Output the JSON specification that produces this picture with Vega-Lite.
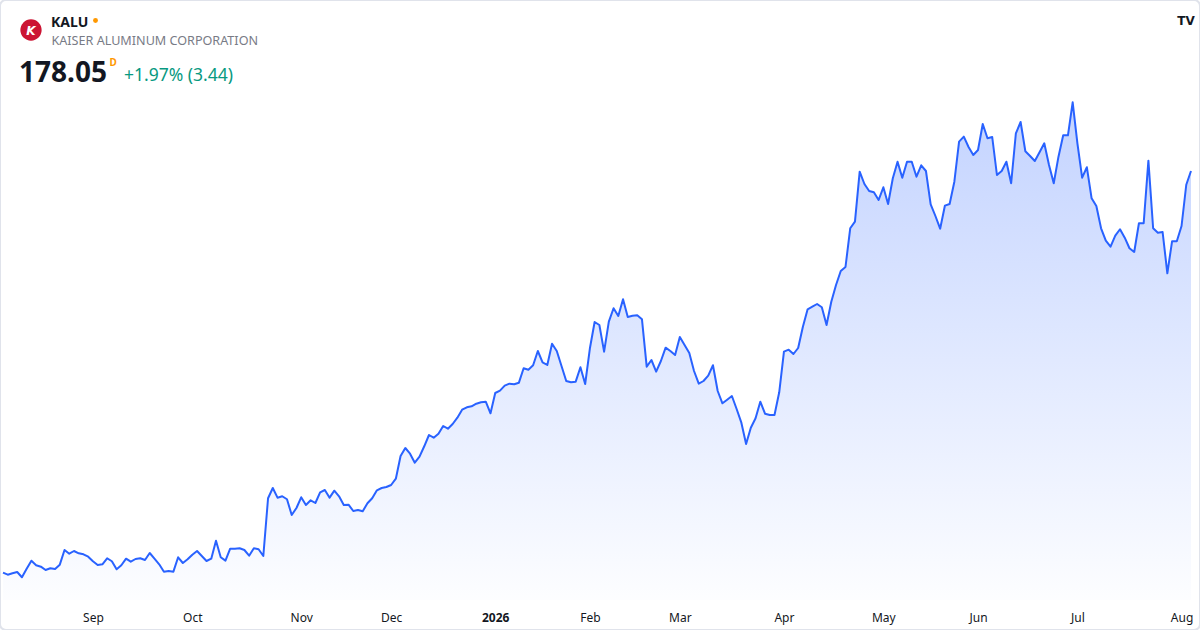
{
  "$schema": "https://vega.github.io/schema/vega-lite/v6.json",
  "width": 1200,
  "height": 630,
  "autosize": {"type": "none"},
  "padding": 0,
  "background": "#ffffff",
  "config": {
    "view": {"stroke": "#e0e3eb", "strokeWidth": 2, "cornerRadius": 6},
    "font": "Noto Sans"
  },
  "datasets": {
    "prices": [
      {"d":"2025-08-05","p":77.63},{"d":"2025-08-06","p":77.13},{"d":"2025-08-07","p":77.48},{"d":"2025-08-08","p":77.80},
      {"d":"2025-08-11","p":76.48},{"d":"2025-08-12","p":78.63},{"d":"2025-08-13","p":80.63},{"d":"2025-08-14","p":79.48},{"d":"2025-08-15","p":79.13},
      {"d":"2025-08-18","p":78.30},{"d":"2025-08-19","p":78.73},{"d":"2025-08-20","p":78.55},{"d":"2025-08-21","p":79.63},{"d":"2025-08-22","p":83.30},
      {"d":"2025-08-25","p":82.38},{"d":"2025-08-26","p":83.05},{"d":"2025-08-27","p":82.48},{"d":"2025-08-28","p":82.23},{"d":"2025-08-29","p":81.63},
      {"d":"2025-09-02","p":80.48},{"d":"2025-09-03","p":79.55},{"d":"2025-09-04","p":79.73},{"d":"2025-09-05","p":81.23},
      {"d":"2025-09-08","p":80.48},{"d":"2025-09-09","p":78.48},{"d":"2025-09-10","p":79.48},{"d":"2025-09-11","p":81.13},{"d":"2025-09-12","p":80.38},
      {"d":"2025-09-15","p":81.05},{"d":"2025-09-16","p":81.23},{"d":"2025-09-17","p":80.80},{"d":"2025-09-18","p":82.55},{"d":"2025-09-19","p":81.13},
      {"d":"2025-09-22","p":79.73},{"d":"2025-09-23","p":77.88},{"d":"2025-09-24","p":78.05},{"d":"2025-09-25","p":77.88},{"d":"2025-09-26","p":81.48},
      {"d":"2025-09-29","p":80.05},{"d":"2025-09-30","p":80.98},
      {"d":"2025-10-01","p":82.13},{"d":"2025-10-02","p":83.05},{"d":"2025-10-03","p":81.80},
      {"d":"2025-10-06","p":80.55},{"d":"2025-10-07","p":81.13},{"d":"2025-10-08","p":85.63},{"d":"2025-10-09","p":81.48},{"d":"2025-10-10","p":80.63},
      {"d":"2025-10-13","p":83.63},{"d":"2025-10-14","p":83.63},{"d":"2025-10-15","p":83.73},{"d":"2025-10-16","p":83.30},{"d":"2025-10-17","p":81.88},
      {"d":"2025-10-20","p":83.73},{"d":"2025-10-21","p":83.48},{"d":"2025-10-22","p":81.80},{"d":"2025-10-23","p":96.23},{"d":"2025-10-24","p":98.80},
      {"d":"2025-10-27","p":96.38},{"d":"2025-10-28","p":96.73},{"d":"2025-10-29","p":95.98},{"d":"2025-10-30","p":92.05},{"d":"2025-10-31","p":93.80},
      {"d":"2025-11-03","p":96.48},{"d":"2025-11-04","p":94.55},{"d":"2025-11-05","p":95.73},{"d":"2025-11-06","p":95.05},{"d":"2025-11-07","p":97.73},
      {"d":"2025-11-10","p":98.30},{"d":"2025-11-11","p":96.38},{"d":"2025-11-12","p":98.13},{"d":"2025-11-13","p":96.73},{"d":"2025-11-14","p":94.55},
      {"d":"2025-11-17","p":94.63},{"d":"2025-11-18","p":93.05},{"d":"2025-11-19","p":93.30},{"d":"2025-11-20","p":92.98},{"d":"2025-11-21","p":94.98},
      {"d":"2025-11-24","p":96.23},{"d":"2025-11-25","p":98.23},{"d":"2025-11-26","p":98.80},{"d":"2025-11-28","p":99.05},
      {"d":"2025-12-01","p":99.55},{"d":"2025-12-02","p":101.13},{"d":"2025-12-03","p":106.80},{"d":"2025-12-04","p":108.80},{"d":"2025-12-05","p":107.38},
      {"d":"2025-12-08","p":105.13},{"d":"2025-12-09","p":106.63},{"d":"2025-12-10","p":109.23},{"d":"2025-12-11","p":112.05},{"d":"2025-12-12","p":111.38},
      {"d":"2025-12-15","p":112.38},{"d":"2025-12-16","p":114.30},{"d":"2025-12-17","p":113.63},{"d":"2025-12-18","p":114.80},{"d":"2025-12-19","p":116.38},
      {"d":"2025-12-22","p":118.38},{"d":"2025-12-23","p":118.98},{"d":"2025-12-24","p":119.23},{"d":"2025-12-26","p":119.88},
      {"d":"2025-12-29","p":120.23},{"d":"2025-12-30","p":120.38},{"d":"2025-12-31","p":117.48},
      {"d":"2026-01-02","p":122.55},
      {"d":"2026-01-05","p":123.13},{"d":"2026-01-06","p":124.38},{"d":"2026-01-07","p":124.88},{"d":"2026-01-08","p":124.73},{"d":"2026-01-09","p":125.13},
      {"d":"2026-01-12","p":128.73},{"d":"2026-01-13","p":128.38},{"d":"2026-01-14","p":129.48},{"d":"2026-01-15","p":133.05},{"d":"2026-01-16","p":130.23},
      {"d":"2026-01-20","p":129.55},{"d":"2026-01-21","p":134.88},{"d":"2026-01-22","p":133.05},{"d":"2026-01-23","p":129.30},
      {"d":"2026-01-26","p":125.55},{"d":"2026-01-27","p":125.23},{"d":"2026-01-28","p":125.38},{"d":"2026-01-29","p":128.98},{"d":"2026-01-30","p":124.80},
      {"d":"2026-02-02","p":133.73},{"d":"2026-02-03","p":140.30},{"d":"2026-02-04","p":139.55},{"d":"2026-02-05","p":132.88},{"d":"2026-02-06","p":140.38},
      {"d":"2026-02-09","p":143.73},{"d":"2026-02-10","p":141.80},{"d":"2026-02-11","p":145.98},{"d":"2026-02-12","p":141.55},{"d":"2026-02-13","p":141.88},
      {"d":"2026-02-17","p":141.98},{"d":"2026-02-18","p":140.98},{"d":"2026-02-19","p":129.13},{"d":"2026-02-20","p":130.80},
      {"d":"2026-02-23","p":127.88},{"d":"2026-02-24","p":130.55},{"d":"2026-02-25","p":133.88},{"d":"2026-02-26","p":133.05},{"d":"2026-02-27","p":132.05},
      {"d":"2026-03-02","p":136.55},{"d":"2026-03-03","p":134.55},{"d":"2026-03-04","p":132.55},{"d":"2026-03-05","p":128.05},{"d":"2026-03-06","p":124.88},
      {"d":"2026-03-09","p":125.55},{"d":"2026-03-10","p":126.88},{"d":"2026-03-11","p":129.48},{"d":"2026-03-12","p":123.05},{"d":"2026-03-13","p":119.98},
      {"d":"2026-03-16","p":120.88},{"d":"2026-03-17","p":121.80},{"d":"2026-03-18","p":118.55},{"d":"2026-03-19","p":115.13},{"d":"2026-03-20","p":109.80},
      {"d":"2026-03-23","p":113.88},{"d":"2026-03-24","p":116.23},{"d":"2026-03-25","p":120.38},{"d":"2026-03-26","p":117.38},{"d":"2026-03-27","p":117.05},
      {"d":"2026-03-30","p":117.05},{"d":"2026-03-31","p":122.73},
      {"d":"2026-04-01","p":132.88},{"d":"2026-04-02","p":133.38},
      {"d":"2026-04-06","p":132.30},{"d":"2026-04-07","p":133.80},{"d":"2026-04-08","p":139.13},{"d":"2026-04-09","p":143.48},{"d":"2026-04-10","p":144.13},
      {"d":"2026-04-13","p":144.80},{"d":"2026-04-14","p":143.98},{"d":"2026-04-15","p":139.55},{"d":"2026-04-16","p":145.38},{"d":"2026-04-17","p":149.55},
      {"d":"2026-04-20","p":153.05},{"d":"2026-04-21","p":154.05},{"d":"2026-04-22","p":163.73},{"d":"2026-04-23","p":165.38},{"d":"2026-04-24","p":177.88},
      {"d":"2026-04-27","p":174.80},{"d":"2026-04-28","p":173.05},{"d":"2026-04-29","p":172.73},{"d":"2026-04-30","p":170.80},
      {"d":"2026-05-01","p":173.98},
      {"d":"2026-05-04","p":169.80},{"d":"2026-05-05","p":176.23},{"d":"2026-05-06","p":180.38},{"d":"2026-05-07","p":176.38},{"d":"2026-05-08","p":180.38},
      {"d":"2026-05-11","p":180.38},{"d":"2026-05-12","p":176.63},{"d":"2026-05-13","p":179.48},{"d":"2026-05-14","p":178.05},{"d":"2026-05-15","p":169.73},
      {"d":"2026-05-18","p":166.80},{"d":"2026-05-19","p":163.63},{"d":"2026-05-20","p":169.38},{"d":"2026-05-21","p":169.80},{"d":"2026-05-22","p":175.38},
      {"d":"2026-05-26","p":185.38},{"d":"2026-05-27","p":186.63},{"d":"2026-05-28","p":184.05},{"d":"2026-05-29","p":182.05},
      {"d":"2026-06-01","p":183.30},{"d":"2026-06-02","p":189.80},{"d":"2026-06-03","p":186.23},{"d":"2026-06-04","p":186.55},{"d":"2026-06-05","p":177.05},
      {"d":"2026-06-08","p":178.05},{"d":"2026-06-09","p":180.38},{"d":"2026-06-10","p":174.98},{"d":"2026-06-11","p":187.48},{"d":"2026-06-12","p":190.30},
      {"d":"2026-06-15","p":182.98},{"d":"2026-06-16","p":181.80},{"d":"2026-06-17","p":180.55},{"d":"2026-06-18","p":182.73},
      {"d":"2026-06-22","p":184.98},{"d":"2026-06-23","p":179.55},{"d":"2026-06-24","p":174.98},{"d":"2026-06-25","p":181.63},{"d":"2026-06-26","p":186.98},
      {"d":"2026-06-29","p":186.98},{"d":"2026-06-30","p":195.23},
      {"d":"2026-07-01","p":184.98},{"d":"2026-07-02","p":176.38},
      {"d":"2026-07-06","p":178.98},{"d":"2026-07-07","p":171.23},{"d":"2026-07-08","p":169.30},{"d":"2026-07-09","p":163.73},{"d":"2026-07-10","p":160.63},
      {"d":"2026-07-13","p":159.13},{"d":"2026-07-14","p":161.88},{"d":"2026-07-15","p":163.48},{"d":"2026-07-16","p":161.38},{"d":"2026-07-17","p":158.73},
      {"d":"2026-07-20","p":157.80},{"d":"2026-07-21","p":164.98},{"d":"2026-07-22","p":164.98},{"d":"2026-07-23","p":180.63},{"d":"2026-07-24","p":163.73},
      {"d":"2026-07-27","p":162.63},{"d":"2026-07-28","p":162.80},{"d":"2026-07-29","p":152.48},{"d":"2026-07-30","p":160.48},{"d":"2026-07-31","p":160.48},
      {"d":"2026-08-03","p":164.30},{"d":"2026-08-04","p":174.61},{"d":"2026-08-05","p":178.05}
    ]
  },
  "layer": [
    {
      "data": {"name": "prices"},
      "mark": {
        "type": "area",
        "color": {
          "gradient": "linear",
          "x1": 0, "y1": 0, "x2": 0, "y2": 1,
          "stops": [
            {"offset": 0, "color": "rgba(41,98,255,0.28)"},
            {"offset": 1, "color": "rgba(41,98,255,0.01)"}
          ]
        }
      },
      "encoding": {
        "x": {
          "field": "d", "type": "ordinal",
          "scale": {"type": "point", "range": [3, 1191], "padding": 0},
          "axis": {
            "values": ["2025-09-02","2025-10-01","2025-11-03","2025-12-01","2026-01-02","2026-02-02","2026-03-02","2026-04-01","2026-05-01","2026-06-01","2026-07-01","2026-08-03"],
            "labelExpr": "datum.value == '2026-01-02' ? '2026' : ['Jan','Feb','Mar','Apr','May','Jun','Jul','Aug','Sep','Oct','Nov','Dec'][toNumber(slice(datum.value, 5, 7)) - 1]",
            "labelFontWeight": {"condition": {"test": "datum.value == '2026-01-02'", "value": "bold"}, "value": "normal"},
            "labelAngle": 0,
            "labelFont": "Noto Sans",
            "labelFontSize": 12,
            "labelColor": "#131722",
            "labelPadding": 0,
            "labelOverlap": false,
            "domain": false,
            "ticks": false,
            "tickSize": 0,
            "grid": false,
            "title": null,
            "offset": -18
          }
        },
        "y": {
          "field": "p", "type": "quantitative",
          "scale": {"domain": [63.3, 220.8], "nice": false, "zero": false},
          "axis": null
        },
        "y2": {"datum": 70.8}
      }
    },
    {
      "data": {"name": "prices"},
      "mark": {"type": "line", "color": "#2962FF", "strokeWidth": 2, "strokeJoin": "round"},
      "encoding": {
        "x": {"field": "d", "type": "ordinal"},
        "y": {"field": "p", "type": "quantitative"}
      }
    },
    {
      "data": {"values": [{"t": "logo"}]},
      "mark": {"type": "point", "shape": "circle", "filled": true, "size": 452, "color": "#cc1433", "opacity": 1},
      "encoding": {"x": {"value": 31}, "y": {"value": 30}}
    },
    {
      "data": {"values": [{"t": "K"}]},
      "mark": {"type": "text", "font": "DejaVu Sans", "fontSize": 12, "fontWeight": "bold", "fontStyle": "italic", "color": "#ffffff", "align": "center", "baseline": "middle"},
      "encoding": {"x": {"value": 31}, "y": {"value": 30.5}, "text": {"field": "t"}}
    },
    {
      "data": {"values": [{"t": "KALU"}]},
      "mark": {"type": "text", "font": "Noto Sans", "fontSize": 14, "fontWeight": "bold", "color": "#131722", "align": "left", "baseline": "alphabetic"},
      "encoding": {"x": {"value": 51}, "y": {"value": 26.5}, "text": {"field": "t"}}
    },
    {
      "data": {"values": [{"t": "dot"}]},
      "mark": {"type": "point", "shape": "circle", "filled": true, "size": 24, "color": "#ff9800", "opacity": 1},
      "encoding": {"x": {"value": 95.5}, "y": {"value": 20.5}}
    },
    {
      "data": {"values": [{"t": "KAISER ALUMINUM CORPORATION"}]},
      "mark": {"type": "text", "font": "Noto Sans", "fontSize": 12.6, "color": "#787b86", "align": "left", "baseline": "alphabetic"},
      "encoding": {"x": {"value": 51.5}, "y": {"value": 45}, "text": {"field": "t"}}
    },
    {
      "data": {"values": [{"t": "178.05"}]},
      "mark": {"type": "text", "font": "Noto Sans", "fontSize": 28, "fontWeight": "bold", "color": "#131722", "align": "left", "baseline": "alphabetic"},
      "encoding": {"x": {"value": 19}, "y": {"value": 81.5}, "text": {"field": "t"}}
    },
    {
      "data": {"values": [{"t": "D"}]},
      "mark": {"type": "text", "font": "Noto Sans", "fontSize": 10, "fontWeight": "bold", "color": "#ff9800", "align": "left", "baseline": "alphabetic"},
      "encoding": {"x": {"value": 109.5}, "y": {"value": 65.5}, "text": {"field": "t"}}
    },
    {
      "data": {"values": [{"t": "+1.97% (3.44)"}]},
      "mark": {"type": "text", "font": "Noto Sans", "fontSize": 17.5, "color": "#089981", "align": "left", "baseline": "alphabetic"},
      "encoding": {"x": {"value": 124}, "y": {"value": 81}, "text": {"field": "t"}}
    },
    {
      "data": {"values": [{"t": "TV"}]},
      "mark": {"type": "text", "font": "DejaVu Sans", "fontSize": 12, "fontWeight": "bold", "color": "#131722", "align": "center", "baseline": "middle"},
      "encoding": {"x": {"value": 1186}, "y": {"value": 21}, "text": {"field": "t"}}
    }
  ]
}
